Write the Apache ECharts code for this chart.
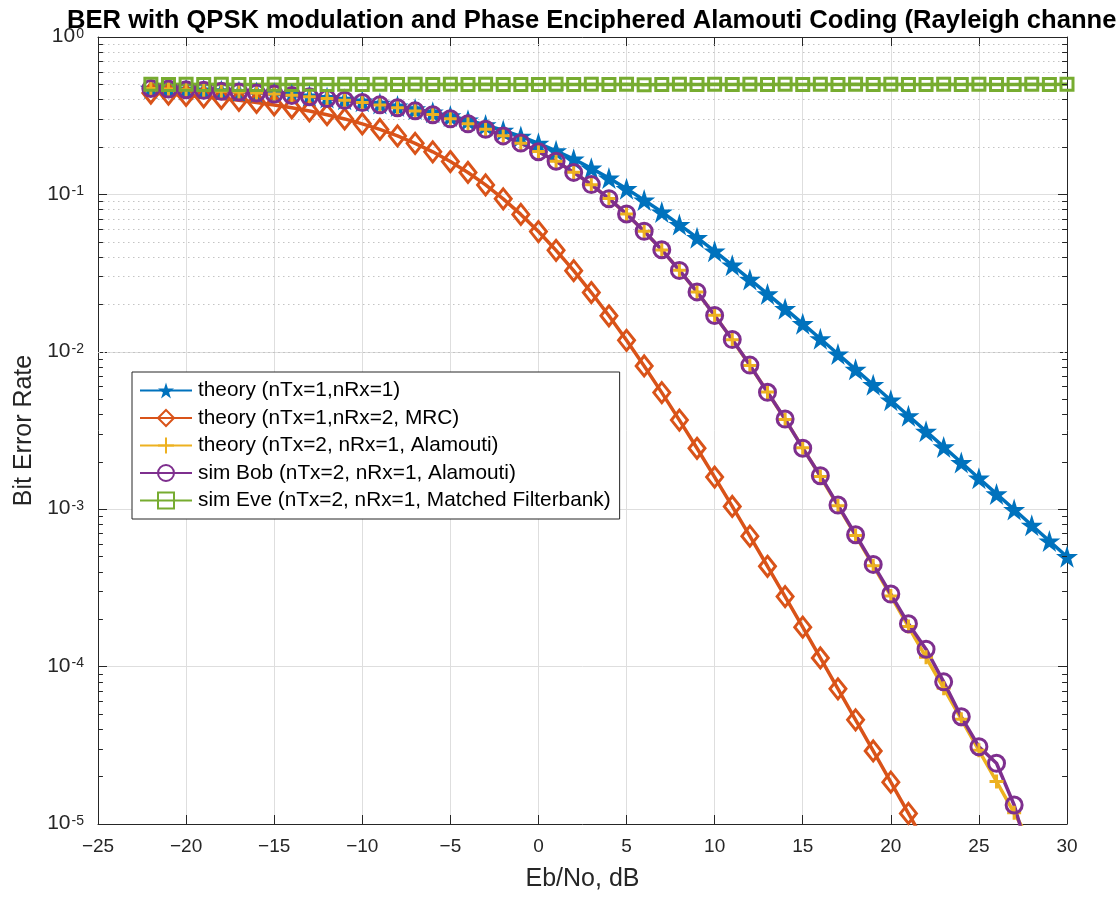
<!DOCTYPE html>
<html>
<head>
<meta charset="UTF-8"/>
<title>BER Alamouti</title>
<script src="https://cdn.jsdelivr.net/npm/echarts@6/dist/echarts.min.js"></script>
<style>
html,body{margin:0;padding:0;background:#fff;}
#chart{width:1117px;height:897px;}
</style>
</head>
<body>
<div id="chart"></div>
<script>
// Eb/No, dB
var ebno = [-22,-21,-20,-19,-18,-17,-16,-15,-14,-13,-12,-11,-10,-9,-8,-7,-6,-5,-4,-3,-2,-1,
    0,1,2,3,4,5,6,7,8,9,10,11,12,13,14,15,16,17,18,19,20,21,22,23,24,25,26,27,28,29,30];

// theory (nTx=1,nRx=1)
var berTheory11 = [0.472,0.4686,0.4647,0.4605,0.4557,0.4503,0.4443,0.4376,0.4301,0.4218,0.4126,0.4023,
    0.3909,0.3783,0.3645,0.3494,0.3330,0.3153,0.2963,0.2762,0.2551,0.2334,
    0.2113,0.1892,0.1675,0.1467,0.1269,0.1087,0.0920,0.0773,0.0643,0.0531,
    0.0436,0.03552,0.02884,0.02332,0.01879,0.01510,0.01210,0.009685,0.007739,0.006178,
    0.004926,0.003925,0.003125,0.002487,0.001979,0.001574,0.001251,0.000995,0.000791,0.000628,0.000499];

// theory (nTx=1,nRx=2, MRC)
var berTheoryMrc = [0.4407,0.4336,0.4256,0.4167,0.4068,0.3958,0.3836,0.3700,0.3551,0.3388,0.3209,0.3016,
    0.2807,0.2586,0.2352,0.2111,0.1864,0.1618,0.1378,0.1149,0.09367,0.07462,
    0.05806,0.04411,0.03276,0.02379,0.01693,0.01183,0.008128,0.005505,0.003682,0.002438,
    0.001599,0.001041,0.000674,0.000434,0.0002784,0.000178,0.0001135,7.222e-5,4.588e-5,2.91e-5,
    1.844e-5,1.168e-5,7.387e-6,4.671e-6,2.952e-6,1.865e-6,1.177e-6,7.43e-7,4.69e-7,2.96e-7,1.87e-7];

// theory (nTx=2, nRx=1, Alamouti)
var berTheoryAlamouti = [0.4703,0.4666,0.4626,0.4580,0.4530,0.4472,0.4409,0.4338,0.4258,0.4169,0.4070,0.3960,
    0.3838,0.3703,0.3555,0.3391,0.3213,0.3020,0.2812,0.2590,0.2357,0.2116,
    0.1870,0.1623,0.1383,0.1153,0.09408,0.07500,0.05838,0.04437,0.03297,0.02396,
    0.01706,0.01192,0.008193,0.005551,0.003714,0.002459,0.001613,0.001051,0.000680,0.000438,
    0.000281,0.0001797,0.0001146,7.29e-5,4.631e-5,2.938e-5,1.862e-5,1.178e-5,7.457e-6,4.715e-6,2.98e-6];

// sim Bob (nTx=2, nRx=1, Alamouti)
var berSimBob = [0.4706,0.4668,0.4623,0.4583,0.4527,0.4475,0.4406,0.4341,0.4255,0.4172,0.4068,0.3962,
    0.3835,0.3706,0.3552,0.3394,0.3210,0.3023,0.2809,0.2593,0.2354,0.2119,
    0.1867,0.1626,0.1380,0.1155,0.09395,0.07512,0.05826,0.04449,0.03288,0.02402,
    0.01701,0.01196,0.008232,0.005528,0.003738,0.002441,0.001632,0.001062,0.000688,0.000446,
    0.000289,0.000187,0.000129,8.0e-5,4.8e-5,3.1e-5,2.43e-5,1.32e-5,5.5e-6,null,null];

// sim Eve (nTx=2, nRx=1, Matched Filterbank)
var berSimEve = [0.5012,0.4996,0.5005,0.4991,0.5008,0.4999,0.4987,0.5003,0.4995,0.5010,0.4998,0.5001,
    0.4993,0.5006,0.4997,0.5004,0.4989,0.5002,0.4999,0.5007,0.4994,0.5000,
    0.4996,0.5009,0.4992,0.5003,0.4998,0.5005,0.4968,0.4997,0.5001,0.4994,
    0.5006,0.4999,0.5002,0.4990,0.5004,0.4997,0.5008,0.4995,0.5001,0.4998,
    0.5003,0.4993,0.5000,0.5006,0.4996,0.5002,0.4999,0.4994,0.5004,0.4998,0.5001];

var names = ['theory (nTx=1,nRx=1)', 'theory (nTx=1,nRx=2, MRC)', 'theory (nTx=2, nRx=1, Alamouti)',
    'sim Bob (nTx=2, nRx=1, Alamouti)', 'sim Eve (nTx=2, nRx=1, Matched Filterbank)'];
var colors = ['#0072BD', '#D95319', '#EDB120', '#7E2F8E', '#77AC30'];

var FONT = '"Liberation Sans", Arial, Helvetica, sans-serif';
var AXIS_COLOR = '#262626';
var STAR = 'path://M0,-100L22.45,-30.9L95.11,-30.9L36.33,11.8L58.78,80.9L0,38.2L-58.78,80.9L-36.33,11.8L-95.11,-30.9L-22.45,-30.9Z';
var PLUS = 'path://M0,-10L0,10M-10,0L10,0';

function pairs(vals) {
    return ebno.map(function (x, i) { return [x, vals[i]]; });
}

function lineSeries(name, vals, color, symbol, size, filled) {
    return {
        name: name,
        type: 'line',
        data: pairs(vals),
        symbol: symbol,
        symbolSize: size,
        showAllSymbol: true,
        clip: true,
        lineStyle: {color: color, width: 3.5},
        itemStyle: filled ? {color: color, borderWidth: 0}
                          : {color: 'rgba(255,255,255,0)', borderColor: color, borderWidth: 3},
        emphasis: {disabled: true},
        z: 3
    };
}

// minor grid (2..9 x 10^k) drawn through the log axis
var minorVals = [];
for (var k = -5; k < 0; k++) {
    for (var m = 2; m <= 9; m++) minorVals.push(m * Math.pow(10, k));
}
var minorGrid = minorVals.map(function (v) { return {yAxis: v}; });
var minorTicks = [];
minorVals.forEach(function (v) {
    minorTicks.push([{coord: [-25, v]}, {coord: [-24.72, v]}]);
    minorTicks.push([{coord: [29.72, v]}, {coord: [30, v]}]);
});

function supLabel(v) {
    var e = Math.round(Math.log(v) / Math.LN10);
    return '{b|10}{s|' + e + '}';
}

var chart = echarts.init(document.getElementById('chart'));
chart.setOption({
    animation: false,
    backgroundColor: '#fff',
    textStyle: {fontFamily: FONT},
    title: {
        text: 'BER with QPSK modulation and Phase Enciphered Alamouti Coding (Rayleigh channel)',
        left: 62, top: 3,
        textStyle: {fontFamily: FONT, fontSize: 25.6, fontWeight: 'bold', color: '#000'}
    },
    grid: {left: 98, right: 50, top: 37, bottom: 73, containLabel: false},
    legend: {
        data: names,
        orient: 'vertical',
        left: 132, top: 372,
        padding: [8, 9, 8, 7],
        itemGap: 6.5,
        itemWidth: 52, itemHeight: 20,
        backgroundColor: '#fff',
        borderColor: AXIS_COLOR, borderWidth: 1, borderRadius: 0,
        textStyle: {fontFamily: FONT, fontSize: 20.8, color: '#000', padding: [0, 0, 0, 1]},
        selectedMode: false
    },
    xAxis: [{
        type: 'value', min: -25, max: 30, interval: 5,
        name: 'Eb/No, dB', nameLocation: 'middle', nameGap: 43,
        nameTextStyle: {fontFamily: FONT, fontSize: 25, color: AXIS_COLOR},
        axisLine: {show: true, onZero: false, lineStyle: {color: AXIS_COLOR, width: 1}},
        axisTick: {show: true, inside: true, length: 9, lineStyle: {color: AXIS_COLOR}},
        axisLabel: {fontFamily: FONT, fontSize: 19, color: AXIS_COLOR, margin: 13,
            formatter: function (v) { return v < 0 ? '\u2212' + Math.abs(v) : String(v); }},
        splitLine: {show: true, lineStyle: {color: '#dedede', width: 1}}
    }, {
        type: 'value', min: -25, max: 30, interval: 5, position: 'top',
        axisLine: {show: true, onZero: false, lineStyle: {color: AXIS_COLOR, width: 1}},
        axisTick: {show: true, inside: true, length: 9, lineStyle: {color: AXIS_COLOR}},
        axisLabel: {show: false},
        splitLine: {show: false}
    }],
    yAxis: [{
        type: 'log', logBase: 10, min: 1e-5, max: 1, splitNumber: 5,
        name: 'Bit Error Rate', nameLocation: 'middle', nameGap: 60,
        nameTextStyle: {fontFamily: FONT, fontSize: 25, color: AXIS_COLOR},
        axisLine: {show: true, onZero: false, lineStyle: {color: AXIS_COLOR, width: 1}},
        axisTick: {show: true, inside: true, length: 9, lineStyle: {color: AXIS_COLOR}},
        axisLabel: {
            margin: 14, formatter: supLabel,
            rich: {
                b: {fontFamily: FONT, fontSize: 21, color: AXIS_COLOR, lineHeight: 20, verticalAlign: 'bottom'},
                s: {fontFamily: FONT, fontSize: 14, color: AXIS_COLOR, lineHeight: 14, verticalAlign: 'top', padding: [0, 0, 14, 1]}
            }
        },
        splitLine: {show: true, lineStyle: {color: '#dedede', width: 1}}
    }, {
        type: 'log', logBase: 10, min: 1e-5, max: 1, splitNumber: 5, position: 'right',
        axisLine: {show: true, onZero: false, lineStyle: {color: AXIS_COLOR, width: 1}},
        axisTick: {show: true, inside: true, length: 9, lineStyle: {color: AXIS_COLOR}},
        axisLabel: {show: false},
        splitLine: {show: false}
    }],
    series: [
        {
            name: 'grid', type: 'line', data: [], silent: true,
            markLine: {
                silent: true, symbol: ['none', 'none'], label: {show: false}, animation: false, z: 1,
                lineStyle: {color: '#c4c4c4', type: [1.5, 3.5], width: 1},
                emphasis: {disabled: true},
                data: minorGrid
            }
        },
        {
            name: 'ticks', type: 'line', data: [], silent: true,
            markLine: {
                silent: true, symbol: ['none', 'none'], label: {show: false}, animation: false, z: 6,
                lineStyle: {color: AXIS_COLOR, type: 'solid', width: 1},
                emphasis: {disabled: true},
                data: minorTicks
            }
        },
        lineSeries(names[0], berTheory11, colors[0], STAR, 22, true),
        lineSeries(names[1], berTheoryMrc, colors[1], 'diamond', [16, 20], false),
        lineSeries(names[2], berTheoryAlamouti, colors[2], PLUS, 14, false),
        lineSeries(names[3], berSimBob, colors[3], 'circle', 16, false),
        lineSeries(names[4], berSimEve, colors[4], 'rect', 12, false)
    ]
});
</script>
</body>
</html>
